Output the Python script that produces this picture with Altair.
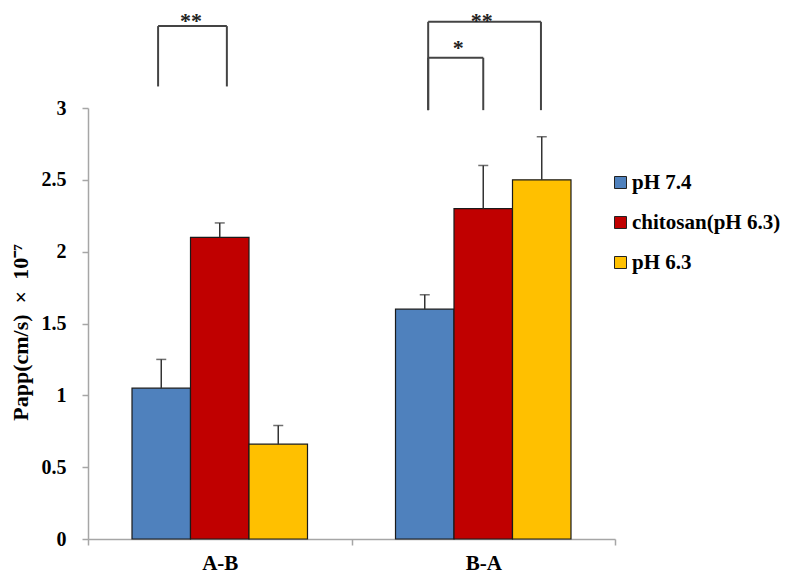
import altair as alt
import pandas as pd

# ---- data ----
groups = ["A-B", "B-A"]
series = ["pH 7.4", "chitosan(pH 6.3)", "pH 6.3"]
colors = ["#4F81BD", "#C00000", "#FFC000"]

mean_ph74 = [1.05, 1.60]
mean_chitosan = [2.10, 2.30]
mean_ph63 = [0.66, 2.50]

sd_ph74 = [0.20, 0.10]
sd_chitosan = [0.10, 0.30]
sd_ph63 = [0.13, 0.30]

# significance brackets (in data units: x = group axis 0..2, y = Papp)
br_left = [0.266, 1.291, 1.291]
br_right = [0.527, 1.719, 1.500]
br_low_left = [3.15, 2.985, 2.985]
br_low_right = [3.15, 2.985, 2.985]
br_top = [3.57, 3.60, 3.35]
star_text = ["**", "**", "*"]
star_x = [0.391, 1.494, 1.405]
star_y = [3.675, 3.675, 3.487]

# ---- build tables ----
means = [mean_ph74, mean_chitosan, mean_ph63]
sds = [sd_ph74, sd_chitosan, sd_ph63]
offsets = [-0.222, 0.0, 0.222]
half = 0.111
rows = []
for gi, g in enumerate(groups):
    for si, s in enumerate(series):
        c = gi + 0.5 + offsets[si]
        rows.append({
            "group": g, "series": s, "order": si,
            "x": c - half, "x2": c + half, "xc": c,
            "value": means[si][gi], "err": means[si][gi] + sds[si][gi],
        })
bars = pd.DataFrame(rows)

segs = []
for i in range(len(br_left)):
    segs.append({"x": br_left[i], "x2": br_left[i], "y": br_low_left[i], "y2": br_top[i]})
    segs.append({"x": br_right[i], "x2": br_right[i], "y": br_low_right[i], "y2": br_top[i]})
    segs.append({"x": br_left[i], "x2": br_right[i], "y": br_top[i], "y2": br_top[i]})
segs = pd.DataFrame(segs)
stars = pd.DataFrame({"x": star_x, "y": star_y, "t": star_text})

FONT = "Liberation Serif"
AXC = "#a6a6a6"

xscale = alt.Scale(domain=[0, 2], nice=False, zero=False)
yscale = alt.Scale(domain=[0, 3], nice=False)

xaxis = alt.Axis(
    values=[0, 0.5, 1, 1.5, 2],
    labelExpr="datum.value == 0.5 ? 'A-B' : (datum.value == 1.5 ? 'B-A' : '')",
    tickOpacity={"condition": {"test": "datum.value == 0.5 || datum.value == 1.5", "value": 0}, "value": 1},
    grid=False, title=None, domainColor=AXC, tickColor=AXC, tickSize=6,
    domainWidth=1.5, tickWidth=1.5, labelFont=FONT, labelFontSize=21,
    labelFontWeight="bold", labelColor="#000", labelPadding=7,
)
yaxis = alt.Axis(
    values=[0, 0.5, 1, 1.5, 2, 2.5, 3],
    labelExpr="'' + datum.value",
    grid=False, title="Papp(cm/s)\u2002×\u200210⁻⁷", domainColor=AXC, tickColor=AXC,
    tickSize=6, domainWidth=1.5, tickWidth=1.5, labelFont=FONT,
    labelFontSize=20, labelFontWeight="bold", labelColor="#000",
    labelPadding=16, titleFont=FONT, titleFontSize=22, titleFontWeight="bold",
    titleColor="#000", titlePadding=9, titleY=224,
)

legend = alt.Legend(
    orient="none", legendX=522, legendY=64, title=None,
    symbolType="square", symbolSize=144, symbolStrokeColor="#222",
    symbolStrokeWidth=1, labelFont=FONT, labelFontSize=21,
    labelFontWeight="bold", labelColor="#000", rowPadding=18,
    labelOffset=1, padding=0,
)

def X(f):
    return alt.X(f, type="quantitative", scale=xscale, axis=xaxis)

def Y(f):
    return alt.Y(f, type="quantitative", scale=yscale, axis=yaxis)

bar_layer = alt.Chart(bars).mark_bar(stroke="#1a1a1a", strokeWidth=1.2).encode(
    x=X("x"), x2="x2:Q", y=Y("value"), y2=alt.datum(0),
    color=alt.Color("series:N", scale=alt.Scale(domain=series, range=colors),
                    sort=series, legend=legend),
)

err_rule = alt.Chart(bars).mark_rule(color="#333", strokeWidth=1.5).encode(
    x=X("xc"), y=Y("value"), y2="err:Q",
)
err_cap = alt.Chart(bars).mark_tick(orient="horizontal", size=10, thickness=1.5, color="#333").encode(
    x=X("xc"), y=Y("err"),
)

bracket_layer = alt.Chart(segs).mark_rule(color="#444", strokeWidth=2).encode(
    x=X("x"), x2="x2:Q", y=Y("y"), y2="y2:Q",
)
star_layer = alt.Chart(stars).mark_text(
    font=FONT, fontSize=22, fontWeight="bold", color="#222", baseline="top", align="center"
).encode(
    x=X("x"), y=Y("y"), text="t:N",
)

chart = alt.layer(bar_layer, err_rule, err_cap, bracket_layer, star_layer).properties(
    width=527, height=431,
    autosize=alt.AutoSizeParams(type="none"),
    padding={"left": 80, "top": 100, "right": 169, "bottom": 38},
    background="white",
).configure_view(stroke=None)

chart.save("out.html", embed_options={"renderer": "svg", "actions": False})
